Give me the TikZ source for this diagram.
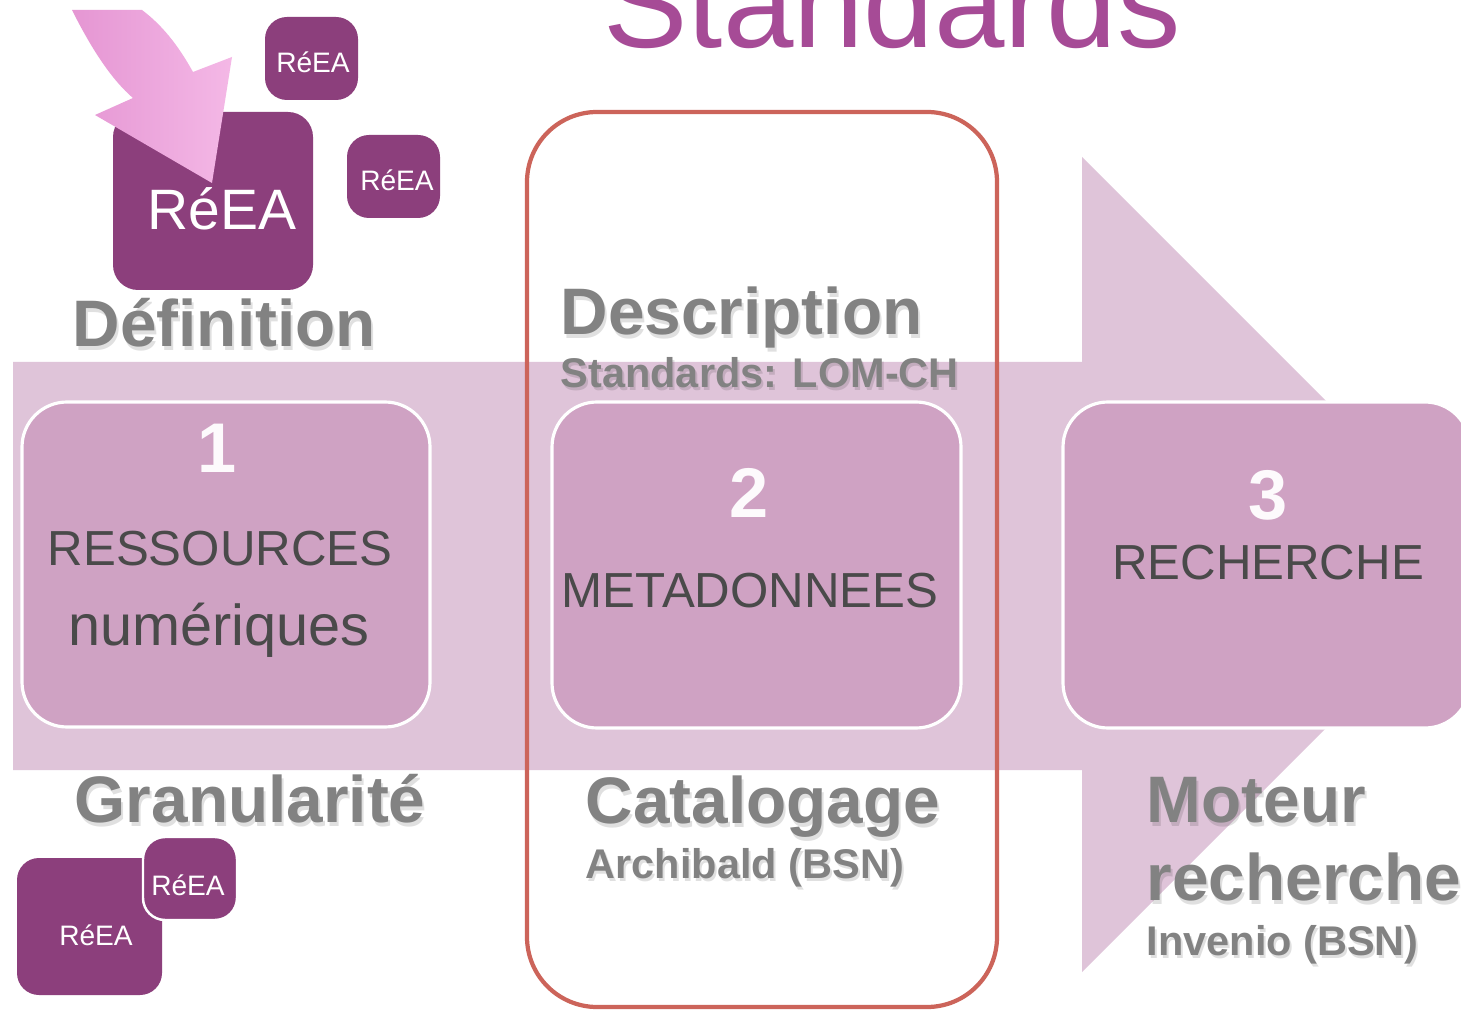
\documentclass[tikz,border=0pt]{standalone}
\usepackage{fontspec}
\setmainfont{Liberation Sans}
\usepackage{tikz}

\definecolor{bandpink}{HTML}{DFC4D9}
\definecolor{boxpink}{HTML}{CFA2C3}
\definecolor{reeapurple}{HTML}{8C3F7C}
\definecolor{titlepurple}{HTML}{A64B96}
\definecolor{framered}{HTML}{CC645A}
\definecolor{boxtext}{HTML}{4A4A4A}
\definecolor{labelgray}{HTML}{828282}
\definecolor{arrowdark}{HTML}{E596D3}
\definecolor{arrowlight}{HTML}{F4B8E6}

\begin{document}
\begin{tikzpicture}[x=0.01cm,y=-0.01cm,
  txt/.style={inner sep=0pt,anchor=base},
  stage/.style={fill=boxpink,draw=white,line width=0.9pt,rounded corners=0.45cm},
  reea/.style={fill=reeapurple,rounded corners=0.22cm},
  reeatxt/.style={txt,text=white,font=\fontsize{8}{9}\selectfont},
  digit/.style={txt,text=white!95!boxpink,font=\bfseries\fontsize{20}{22}\selectfont},
  stagetxt/.style={txt,text=boxtext,font=\fontsize{14}{16}\selectfont},
  biglabel/.style={txt,anchor=base west,text=labelgray,font=\bfseries\fontsize{18.7}{20}\selectfont},
  sublabel/.style={txt,anchor=base west,text=labelgray,font=\bfseries\fontsize{11.8}{13}\selectfont},
  glow/.style={text=black,opacity=0.12}]

  \clip (0,0) rectangle (1461,1010);
  \fill[white] (0,0) rectangle (1461,1010);

  % title
  \node[txt,text=titlepurple,font=\fontsize{36}{40}\selectfont] (title) at (892,48) {Standards};

  % big arrow
  \fill[bandpink] (13,362) -- (1082,362) -- (1082,157) -- (1489.5,564.5)
    -- (1082,972) -- (1082,770) -- (13,770) -- cycle;

  % stages
  \draw[stage] (22,402) rectangle (430,727);
  \node[digit] (one) at (217,473) {1};
  \node[stagetxt] (ressources) at (220,565) {RESSOURCES};
  \node[stagetxt,font=\fontsize{16.4}{18}\selectfont] (numeriques) at (219,645) {numériques};

  \draw[stage] (552,402) rectangle (961,728);
  \node[digit] (two) at (749,518) {2};
  \node[stagetxt] (metadonnees) at (750,607) {METADONNEES};

  \draw[stage] (1063,402) rectangle (1470,728);
  \node[digit] (three) at (1268,520) {3};
  \node[stagetxt] (recherche) at (1268,580) {RECHERCHE};

  % highlight frame
  \draw[framered,line width=1.2pt,rounded corners=0.7cm] (527,112) rectangle (997,1007);

  % definition
  \fill[reea] (265,17) rectangle (358,100);
  \node[reeatxt] (reeaA) at (313,73) {RéEA};
  \fill[reea] (347,135) rectangle (440,218);
  \node[reeatxt] (reeaB) at (397,191) {RéEA};
  \fill[reea,rounded corners=0.25cm] (113,112) rectangle (313,290);
  \node[reeatxt,font=\fontsize{16.2}{18}\selectfont] (reeamain) at (222,230) {RéEA};
  \shade[left color=arrowdark,right color=arrowlight]
    (72,10) .. controls (92,50) and (112,80) .. (133,98) -- (95,115) -- (212,183)
    -- (232,57) -- (193,72) .. controls (178,45) and (162,25) .. (142,10) -- cycle;

  % granularity
  \fill[reea] (17,858) rectangle (162,995);
  \node[reeatxt] (reeaC) at (96,945) {RéEA};
  \draw[reea,draw=white,line width=0.7pt] (143,837) rectangle (237,920);
  \node[reeatxt] (reeaD) at (188,895) {RéEA};

  % labels
  \node[biglabel,glow] (definition-s) at (74,351) {Définition};
  \node[biglabel] (definition) at (72,347) {Définition};
  \node[biglabel,glow] (granularite-s) at (76,826) {Granularité};
  \node[biglabel] (granularite) at (74,822) {Granularité};
  \node[biglabel,glow] (description-s) at (562,339) {Description};
  \node[biglabel] (description) at (560,335) {Description};
  \node[sublabel,glow] (lom-s) at (562,391) {Standards: LOM-CH};
  \node[sublabel] (lom) at (560,388) {Standards: LOM-CH};
  \node[biglabel,glow] (catalogage-s) at (587,827) {Catalogage};
  \node[biglabel] (catalogage) at (585,823) {Catalogage};
  \node[sublabel,glow] (archibald-s) at (587,881) {Archibald (BSN)};
  \node[sublabel] (archibald) at (585,878) {Archibald (BSN)};
  \node[biglabel,glow] (moteur-s) at (1148,826) {Moteur};
  \node[biglabel] (moteur) at (1146,822) {Moteur};
  \node[biglabel,glow] (recherchelbl-s) at (1148,904) {recherche};
  \node[biglabel] (recherchelbl) at (1146,900) {recherche};
  \node[sublabel,glow] (invenio-s) at (1148,958) {Invenio (BSN)};
  \node[sublabel] (invenio) at (1146,955) {Invenio (BSN)};

\end{tikzpicture}
\end{document}
